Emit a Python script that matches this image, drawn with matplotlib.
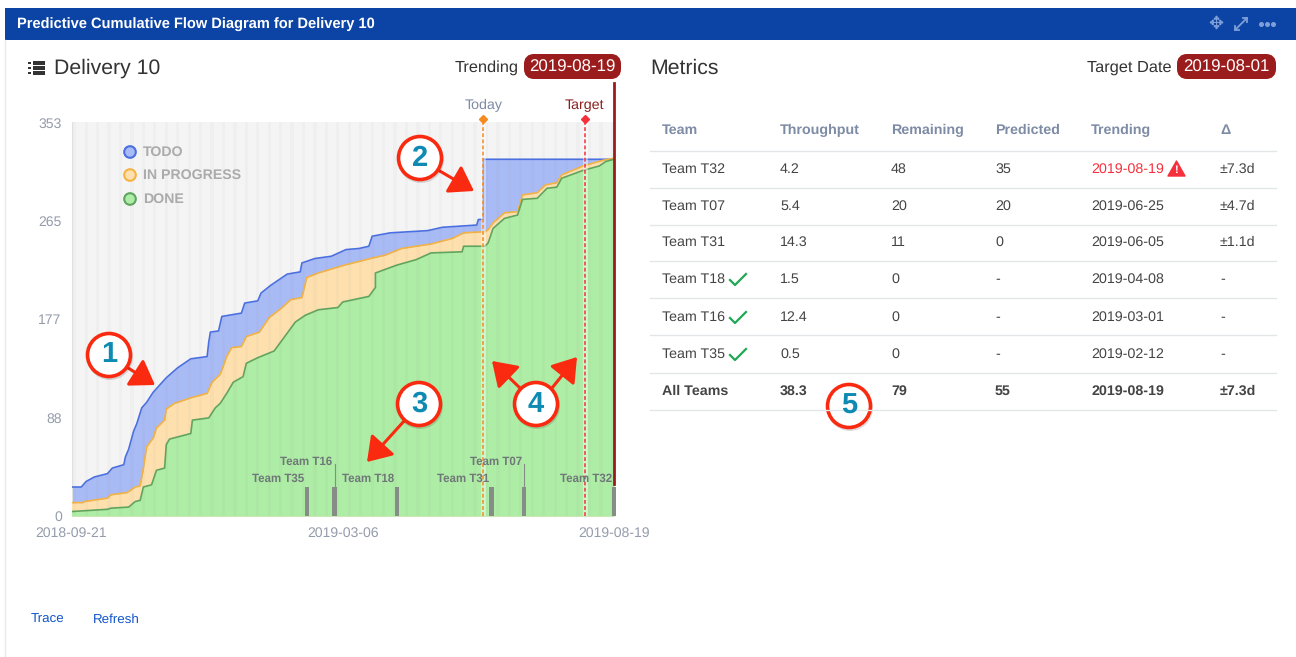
### Import Libraries -------------------------------------------------------

import matplotlib

matplotlib.use("Agg")
import matplotlib.pyplot as plt
from matplotlib.patches import Circle, FancyArrowPatch, FancyBboxPatch, Polygon, Rectangle
import pandas as pd

plt.rcParams["font.family"] = ["Liberation Sans", "DejaVu Sans"]
plt.rcParams["text.hinting"] = "no_hinting"

### Chart data ---------------------------------------------------------------

start_date = "2018-09-21"
today_date = "2019-05-31"
target_date = "2019-08-01"
trending_date = "2019-08-19"

# days since start_date, item counts
todo_days = [0, 6, 9, 14, 22, 25, 32, 33, 35, 38, 40, 43, 46, 50, 58, 65, 73, 83, 84, 85, 90, 92,
             104, 106, 114, 116, 122, 129, 132, 140, 141, 149, 159, 168, 176, 182, 184, 195, 218,
             227, 248, 249, 252, 252, 332]
todo_vals = [26, 26, 31, 35, 38, 43, 46, 53, 60, 76, 83, 97, 102, 111, 124, 133, 141, 143, 156, 165,
             166, 179, 182, 191, 193, 200, 207, 214, 217, 219, 227, 231, 233, 239, 240, 242, 251,
             254, 256, 259, 261, 266, 266, 320, 320]

progress_days = [0, 7, 8, 22, 24, 34, 39, 42, 44, 46, 50, 52, 57, 58, 63, 73, 83, 86, 91, 95, 98,
                 104, 107, 115, 121, 129, 134, 141, 144, 151, 167, 183, 192, 202, 220, 233, 240,
                 253, 255, 258, 265, 273, 276, 285, 290, 297, 300, 313, 325, 332]
progress_vals = [12, 12, 13, 16, 19, 21, 26, 27, 43, 62, 70, 79, 86, 96, 101, 106, 110, 120, 127,
                 143, 151, 152, 161, 165, 178, 187, 194, 196, 214, 218, 225, 231, 234, 240, 244,
                 249, 254, 255, 257, 263, 272, 273, 288, 290, 297, 299, 306, 314, 319, 321]

done_days = [0, 22, 24, 35, 39, 42, 44, 49, 52, 57, 58, 60, 73, 74, 84, 88, 91, 95, 99, 105, 107,
             114, 124, 129, 137, 143, 151, 163, 166, 182, 186, 186, 199, 211, 220, 239, 240, 253,
             255, 258, 265, 273, 276, 285, 291, 297, 300, 313, 323, 327, 332]
done_vals = [4, 6, 7, 8, 13, 14, 26, 28, 41, 43, 64, 69, 74, 86, 88, 97, 101, 110, 120, 125, 137,
             142, 148, 158, 174, 180, 185, 187, 192, 197, 205, 218, 225, 230, 236, 237, 242, 242,
             245, 258, 267, 270, 284, 285, 294, 295, 303, 310, 314, 318, 320]

y_ticks = [0, 88, 177, 265, 353]
x_tick_dates = ["2018-09-21", "2019-03-06", "2019-08-19"]

legend_labels = ["TODO", "IN PROGRESS", "DONE"]

table_header = ["Team", "Throughput", "Remaining", "Predicted", "Trending", "Δ"]
teams = ["Team T32", "Team T07", "Team T31", "Team T18", "Team T16", "Team T35", "All Teams"]
throughput = ["4.2", "5.4", "14.3", "1.5", "12.4", "0.5", "38.3"]
remaining = ["48", "20", "11", "0", "0", "0", "79"]
predicted = ["35", "20", "0", "-", "-", "-", "55"]
trending = ["2019-08-19", "2019-06-25", "2019-06-05", "2019-04-08", "2019-03-01", "2019-02-12", "2019-08-19"]
delta = ["±7.3d", "±4.7d", "±1.1d", "-", "-", "-", "±7.3d"]
finished = ["Team T18", "Team T16", "Team T35"]


def day_of(date):
    return (pd.Timestamp(date) - pd.Timestamp(start_date)).days


### Colours ------------------------------------------------------------------

header_blue = "#0b44a5"
badge_red = "#9b1c1c"
dark_text = "#333333"
body_text = "#444444"
muted = "#7d8ba5"
axis_grey = "#949cab"

### Figure and chart axes ----------------------------------------------------

fig = plt.figure(figsize=(12.96, 6.57), dpi=100, facecolor="white")
ax = fig.add_axes([71.5 / 1296, 1 - 516 / 657, 542.5 / 1296, 393.5 / 657], zorder=1)
ax.set_xlim(0, day_of(trending_date))
ax.set_ylim(0, 353)
ax.set_facecolor("#f4f4f4")

ax.fill_between(todo_days, 0, todo_vals, color="#a9bbf5", lw=0, zorder=2)
ax.fill_between(progress_days, 0, progress_vals, color="#fde0ae", lw=0, zorder=3)
ax.fill_between(done_days, 0, done_vals, color="#aeeda6", lw=0, zorder=4)
ax.plot(todo_days, todo_vals, color="#4a6fe0", lw=1.2, zorder=5)
ax.plot(progress_days, progress_vals, color="#f5b342", lw=1.2, zorder=5)
ax.plot(done_days, done_vals, color="#5fa55f", lw=1.2, zorder=5)

# weekend stripes
for d in range(1, day_of(trending_date), 7):
    ax.axvspan(d, d + 2, color="#808080", alpha=0.04, lw=0, zorder=6)

# today, target and trending markers
for date, colour, label, label_colour in [
    (today_date, "#f58a1f", "Today", muted),
    (target_date, "#f5303c", "Target", "#8b2020"),
]:
    d = day_of(date)
    ax.axvline(d, color="white", lw=3.5, alpha=0.45, zorder=7)
    ax.axvline(d, color=colour, lw=1.1, ls=(0, (2.5, 1.5)), zorder=8)
    ax.plot([d], [356], marker="D", ms=4.5, color=colour, clip_on=False, zorder=9)
    ax.annotate(label, (d, 353), xytext=(0, 7.5), textcoords="offset points", ha="center", va="bottom",
                fontsize=10.3, color=label_colour, annotation_clip=False)
ax.plot([day_of(trending_date)] * 2, [29, 388], color=badge_red, lw=2, clip_on=False, zorder=9)

# team completion ticks
for team, date in zip(teams[:-1], trending[:-1]):
    d = day_of(date)
    upper = team in ["Team T16", "Team T07"]
    ax.bar(d, 26, width=2.6, color="#868c86", clip_on=False, zorder=10)
    if upper:
        ax.plot([d, d], [26, 47], color="#868c86", lw=0.8, zorder=10)
    ax.annotate(team, (d, 26), xytext=(-1.6, 18.4 if upper else 6), textcoords="offset points",
                ha="right", va="center", fontsize=8.3, fontweight="bold", color="#6f7778",
                zorder=11)

ax.set_yticks(y_ticks)
ax.set_xticks([day_of(d) for d in x_tick_dates])
ax.set_xticklabels(x_tick_dates)
ax.tick_params(axis="both", length=0, colors=axis_grey, labelsize=10.1)
ax.tick_params(axis="x", pad=8)
ax.tick_params(axis="y", pad=7)
for name, spine in ax.spines.items():
    spine.set_visible(name in ["bottom", "left"])
    spine.set_color("#dde1e4")

### Overlay in screen pixels: panel, titles, table, callouts -----------------

ov = fig.add_axes([0, 0, 1, 1], zorder=5)
ov.set_xlim(0, 1296)
ov.set_ylim(657, 0)
ov.axis("off")
ov.patch.set_alpha(0)

ov.add_patch(Rectangle((5, 8), 1291, 32, color=header_blue, lw=0))
ov.plot([5, 5], [40, 657], color="#e8e8e8", lw=1)
ov.text(17, 24.5, "Predictive Cumulative Flow Diagram for Delivery 10", color="white",
        fontsize=10.5, fontweight="bold", va="center")

# header icons
icon = "#7f9fd8"
ov.text(1216, 24, "✥", color=icon, fontsize=13, ha="center", va="center", family="DejaVu Sans")
ov.plot([1235, 1247], [30, 18], color=icon, lw=1.3)
ov.plot([1235, 1235, 1239], [26, 30, 30], color=icon, lw=1.3)
ov.plot([1243, 1247, 1247], [18, 18, 22], color=icon, lw=1.3)
ov.plot([1261, 1267, 1273], [24, 24, 24], ls="none", marker="o", ms=2.6, color=icon)

# chart title and list icon
for y in [63, 68, 73]:
    ov.add_patch(Rectangle((33, y - 1.7), 12, 3.4, color="#333333", lw=0))
    ov.add_patch(Rectangle((28, y - 1), 3, 2, color="#333333", lw=0))
ov.text(54, 68, "Delivery 10", color=dark_text, fontsize=15.3, va="center")
ov.text(650, 68, "Metrics", color=dark_text, fontsize=15.3, va="center")


def badge(x0, x1, label, text):
    ov.add_patch(FancyBboxPatch((x0 + 5, 59), x1 - x0 - 10, 15, boxstyle="round,pad=0,rounding_size=5",
                                mutation_aspect=1, color=badge_red, lw=10 * 0.72))
    ov.text((x0 + x1) / 2, 67.5, text, color="white", fontsize=12.2, ha="center", va="center")
    ov.text(x0 - 5, 67.5, label, color=dark_text, fontsize=11.8, ha="right", va="center")


badge(524, 621, "Trending", trending_date)
badge(1177, 1276, "Target Date", target_date)

# legend
for y, label, face, edge in zip([152, 175, 199], legend_labels, ["#a9bbf5", "#fde0ae", "#aeeda6"],
                                ["#4a6fe0", "#f5b342", "#5fa55f"]):
    ov.add_patch(Circle((130, y), 5.8, facecolor=face, edgecolor=edge, lw=1.5))
    ov.text(143, y + 0.5, label, color="#ababab", fontsize=10.2, fontweight="bold", va="center")

# table
col_x = [662, 780, 891, 995, 1091, 1220]
row_y = [169, 206, 242, 279, 317, 354, 391]
line_y = [151, 188, 225, 261, 298, 335, 373, 410]

for x, name in zip(col_x, table_header):
    ov.text(x, 130.5, name, color=muted, fontsize=10.3, fontweight="bold", va="center")
for y in line_y:
    ov.plot([650, 1276], [y, y], color="#e3e6e8", lw=1)

for i, y in enumerate(row_y):
    weight = "bold" if teams[i] == "All Teams" else "normal"
    row = [teams[i], throughput[i], remaining[i], predicted[i], trending[i], delta[i]]
    for x, value in zip(col_x, row):
        colour = "#f5303c" if i == 0 and x == 1091 else body_text
        ov.text(x, y + 0.5, value, color=colour, fontsize=10.3, fontweight=weight, va="center")
    if teams[i] in finished:
        ov.plot([730, 735, 746], [y + 1, y + 6, y - 5], color="#1fa855", lw=1.6)

# warning triangle next to the late date
ov.add_patch(Polygon([[1176.5, 161], [1185, 176], [1168, 176]], closed=True, color="#f5303c", lw=1, joinstyle="round"))
ov.text(1176.5, 170.5, "!", color="white", fontsize=8, fontweight="bold", ha="center", va="center")

# links
ov.text(31, 619.5, "Trace", color="#1155cc", fontsize=9.6, va="center")
ov.text(93, 619.5, "Refresh", color="#1155cc", fontsize=9.6, va="center")

# numbered callouts
arrows = [
    ((125, 366), (155, 385)),
    ((438, 170), (474, 191)),
    ((405, 420), (367, 462)),
    ((520, 388), (492, 361)),
    ((552, 388), (577, 357)),
]
for start, tip in arrows:
    ov.add_patch(FancyArrowPatch(start, tip, arrowstyle="-|>,head_length=6,head_width=4",
                                 mutation_scale=2.4, color="#f92a0f", lw=2.2, shrinkA=0, shrinkB=0))

callouts = [("1", 109, 355), ("2", 420, 158), ("3", 419, 404), ("4", 536, 404), ("5", 849, 406)]
for digit, x, y in callouts:
    ov.add_patch(Circle((x + 1, y + 2), 23, facecolor="#00000022", edgecolor="none"))
    ov.add_patch(Circle((x, y), 21.5, facecolor="white", edgecolor="#f92a0f", lw=2.6))
    ov.text(x, y, digit, color="#0f8bb3", fontsize=21, fontweight="bold", ha="center", va="center")

fig.savefig("out.png", dpi=100)
